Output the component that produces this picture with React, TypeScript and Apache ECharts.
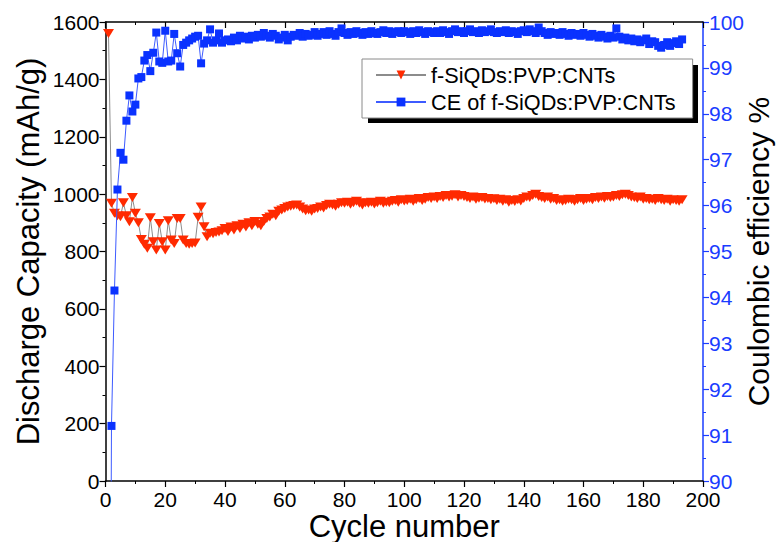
import React, { useEffect, useRef } from "react";
import * as echarts from "echarts";

const cycles: number[] = Array.from({ length: 193 }, (_, i) => i + 1);

const capacity: number[] = [
  1560, 968, 933, 925, 921, 970, 925, 904, 988, 933,
  900, 842, 825, 811, 918, 834, 805, 898, 834, 805,
  907, 840, 828, 915, 915, 840, 828, 825, 828, 830,
  919, 955, 886, 851, 864, 862, 866, 868, 872, 880,
  870, 885, 875, 890, 880, 895, 885, 900, 890, 905,
  895, 890, 905, 915, 920, 930, 925, 940, 945, 950,
  955, 958, 960, 962, 955, 948, 942, 945, 940, 948,
  950, 955, 952, 960, 965, 962, 958, 965, 970, 968,
  972, 965, 970, 975, 968, 962, 970, 968, 972, 966,
  970, 975, 968, 972, 970, 975, 978, 972, 980, 976,
  978, 982, 975, 980, 985, 978, 982, 988, 985, 990,
  985, 992, 988, 995, 990, 993, 998, 990, 995, 992,
  988, 985, 990, 982, 986, 988, 983, 985, 980, 984,
  978, 982, 975, 980, 972, 978, 974, 980, 976, 985,
  990, 988, 995, 1000, 992, 988, 985, 990, 982, 985,
  978, 980, 975, 978, 982, 980, 975, 980, 985, 978,
  982, 985, 980, 988, 985, 990, 986, 992, 988, 990,
  995, 992, 998, 1000, 995, 990, 988, 985, 990, 982,
  985, 980, 982, 978, 985, 980, 978, 982, 975, 980,
  978, 975, 980,
];

const efficiency: number[] = [
  75, 91.2, 94.15, 96.35, 97.15, 97.0, 97.85, 98.4, 98.05, 98.2,
  98.77, 98.8, 99.16, 99.28, 98.93, 99.33, 99.77, 99.14, 99.11, 99.81,
  99.14, 99.16, 99.74, 99.32, 99.03, 99.5, 99.55, 99.6, 99.64, 99.68,
  99.7, 99.1, 99.53, 99.6, 99.84, 99.55, 99.6, 99.75, 99.55, 99.6,
  99.62, 99.58, 99.66, 99.6, 99.7, 99.64, 99.68, 99.62, 99.7, 99.66,
  99.72, 99.68, 99.76, 99.7, 99.66, 99.74, 99.7, 99.62, 99.66, 99.72,
  99.6, 99.68, 99.72, 99.7, 99.76, 99.68, 99.74, 99.7, 99.72, 99.78,
  99.7, 99.74, 99.78, 99.72, 99.8, 99.74, 99.7, 99.78, 99.86, 99.76,
  99.72, 99.78, 99.74, 99.8, 99.76, 99.72, 99.78, 99.74, 99.8, 99.76,
  99.74, 99.78, 99.82, 99.76, 99.8, 99.74, 99.78, 99.8, 99.76, 99.8,
  99.78, 99.74, 99.8, 99.76, 99.82, 99.78, 99.74, 99.8, 99.78, 99.76,
  99.8, 99.76, 99.82, 99.78, 99.74, 99.8, 99.84, 99.78, 99.8, 99.76,
  99.8, 99.84, 99.78, 99.8, 99.76, 99.82, 99.78, 99.8, 99.84, 99.78,
  99.76, 99.8, 99.78, 99.82, 99.76, 99.8, 99.78, 99.74, 99.8, 99.82,
  99.78, 99.84, 99.8, 99.76, 99.88, 99.8, 99.76, 99.72, 99.78, 99.74,
  99.76, 99.72, 99.78, 99.74, 99.7, 99.76, 99.72, 99.74, 99.7, 99.76,
  99.72, 99.68, 99.74, 99.7, 99.66, 99.72, 99.68, 99.64, 99.7, 99.66,
  99.86, 99.68, 99.62, 99.66, 99.6, 99.64, 99.58, 99.62, 99.56, 99.6,
  99.64, 99.52, 99.58, 99.56, 99.48, 99.44, 99.5, 99.56, 99.48, 99.54,
  99.58, 99.52, 99.62,
];

const seriesNames = ["f-SiQDs:PVP:CNTs", "CE of f-SiQDs:PVP:CNTs"];
const FONT = "'Liberation Sans', Arial, sans-serif";
const BLUE = "#1a3cff";

export default function App() {
  const ref = useRef<HTMLDivElement>(null);
  useEffect(() => {
    if (!ref.current) return;
    const chart = echarts.init(ref.current, undefined, { renderer: "svg" });
    const capData = cycles.map((c, i) => [c, capacity[i]]);
    const ceData = cycles.map((c, i) => [c, efficiency[i]]);
    const plain = (v: number) => String(v);
    chart.setOption({
      animation: false,
      backgroundColor: "#ffffff",
      textStyle: { fontFamily: FONT },
      grid: {
        left: 105.5,
        right: 74,
        top: 22,
        bottom: 61,
        containLabel: false,
        outerBoundsMode: "none",
      },
      legend: {
        orient: "vertical",
        left: 362,
        top: 59,
        z: 10,
        backgroundColor: "#ffffff",
        borderColor: "#8a8a8a",
        borderWidth: 1,
        borderRadius: 0,
        padding: [5, 17, 5, 13],
        itemGap: 5,
        itemWidth: 50,
        itemHeight: 11,
        textStyle: { fontSize: 21.7, color: "#000", fontFamily: FONT },
        data: seriesNames,
      },
      graphic: [
        {
          type: "rect",
          z: 1,
          silent: true,
          shape: { x: 368, y: 65, width: 330, height: 58 },
          style: { fill: "#000" },
        },
      ],
      xAxis: [
        {
          type: "value",
          min: 0,
          max: 200,
          interval: 20,
          position: "bottom",
          name: "Cycle number",
          nameLocation: "middle",
          nameGap: 30,
          nameMoveOverlap: false,
          nameTextStyle: { fontSize: 31, lineHeight: 31, color: "#000", fontFamily: FONT },
          axisLine: { onZero: false, lineStyle: { color: "#000", width: 1.5 } },
          axisTick: { inside: false, length: 6, lineStyle: { color: "#000", width: 1.2 } },
          minorTick: { show: true, splitNumber: 2, length: 3, lineStyle: { color: "#000", width: 1 } },
          axisLabel: {
            fontSize: 21,
            lineHeight: 19,
            color: "#000",
            margin: 8.5,
            fontFamily: FONT,
            formatter: plain,
          },
          splitLine: { show: false },
        },
        {
          type: "value",
          min: 0,
          max: 200,
          interval: 20,
          position: "top",
          axisLine: { onZero: false, lineStyle: { color: "#000", width: 1.5 } },
          axisTick: { inside: true, length: 6, lineStyle: { color: "#000", width: 1.2 } },
          minorTick: { show: true, splitNumber: 2, length: 3, lineStyle: { color: "#000", width: 1 } },
          axisLabel: { show: false },
          splitLine: { show: false },
        },
      ],
      yAxis: [
        {
          type: "value",
          min: 0,
          max: 1600,
          interval: 200,
          position: "left",
          name: "Discharge Capacity (mAh/g)",
          nameLocation: "middle",
          nameGap: 62,
          nameMoveOverlap: false,
          nameTextStyle: { fontSize: 31, color: "#000", fontFamily: FONT },
          axisLine: { show: true, onZero: false, lineStyle: { color: "#000", width: 1.5 } },
          axisTick: { show: true, inside: false, length: 6, lineStyle: { color: "#000", width: 1.2 } },
          minorTick: { show: true, splitNumber: 2, length: 3, lineStyle: { color: "#000", width: 1 } },
          axisLabel: { fontSize: 21, color: "#000", margin: 6, fontFamily: FONT, formatter: plain },
          splitLine: { show: false },
        },
        {
          type: "value",
          min: 90,
          max: 100,
          interval: 1,
          position: "right",
          name: "Coulombic efficiency %",
          nameLocation: "middle",
          nameGap: 40,
          nameRotate: 90,
          nameMoveOverlap: false,
          nameTextStyle: { fontSize: 30, color: "#000", fontFamily: FONT },
          axisLine: { show: true, onZero: false, lineStyle: { color: BLUE, width: 1.5 } },
          axisTick: { show: true, inside: false, length: 6, lineStyle: { color: BLUE, width: 1.2 } },
          minorTick: { show: true, splitNumber: 2, length: 3, lineStyle: { color: BLUE, width: 1 } },
          axisLabel: {
            fontSize: 21,
            lineHeight: 16,
            color: BLUE,
            margin: 6,
            fontFamily: FONT,
            formatter: plain,
          },
          splitLine: { show: false },
        },
      ],
      series: [
        {
          name: seriesNames[0],
          type: "line",
          xAxisIndex: 0,
          yAxisIndex: 0,
          data: capData,
          symbol: "triangle",
          symbolRotate: 180,
          symbolSize: [11, 9],
          showAllSymbol: true,
          clip: true,
          lineStyle: { color: "#8c8c8c", width: 1 },
          itemStyle: { color: "#ff2a00" },
          emphasis: { disabled: true },
          z: 2,
        },
        {
          name: seriesNames[1],
          type: "line",
          xAxisIndex: 0,
          yAxisIndex: 1,
          data: ceData,
          symbol: "rect",
          symbolSize: 8,
          showAllSymbol: true,
          clip: true,
          lineStyle: { color: "#3d5bff", width: 1 },
          itemStyle: { color: "#0a32ff" },
          emphasis: { disabled: true },
          z: 3,
        },
      ],
    });
    return () => chart.dispose();
  }, []);
  return (
    <div
      ref={ref}
      style={{ position: "fixed", left: 0, top: 0, width: 777, height: 542, overflow: "hidden" }}
    />
  );
}
